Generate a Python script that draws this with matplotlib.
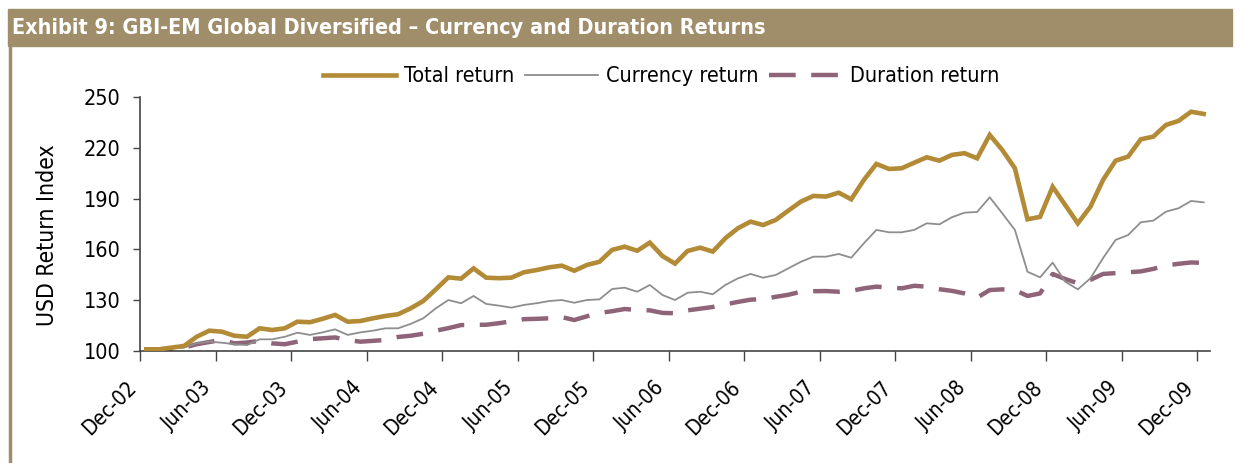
import numpy as np
import matplotlib
matplotlib.use("Agg")
import matplotlib.pyplot as plt
from matplotlib.patches import Rectangle
from matplotlib.lines import Line2D

plt.rcParams['font.family'] = ['DejaVu Sans']
plt.rcParams['font.stretch'] = 'condensed'

# ── Data: monthly index, Dec-02 .. Dec-09 ───────────────────────────────
total_return = [
    101, 101, 102, 103, 108.4, 112, 111.4, 109, 108.4, 113.4,
    112.4, 113.4, 117.3, 117, 119, 121.3, 117.3, 117.7, 119.3, 120.7,
    121.7, 125.2, 129.5, 136.4, 143.5, 142.7, 148.8, 143.3, 143, 143.3,
    146.5, 147.8, 149.4, 150.4, 147.4, 150.8, 152.7, 159.7, 161.6, 159.2,
    164, 156.1, 151.6, 159.1, 161, 158.7, 166.6, 172.5, 176.4, 174.4,
    177.4, 182.9, 188.2, 191.6, 191.2, 193.5, 189.6, 201, 210.5, 207.5,
    207.9, 211.2, 214.4, 212.4, 215.8, 216.8, 213.8, 227.6, 218.7, 207.9,
    177.8, 179.2, 197, 186.2, 175.4, 185.2, 201, 212.4, 214.8, 225,
    226.6, 233.5, 235.9, 241.3, 240,
]
currency_return = [
    101, 101, 101.5, 102, 104.5, 105.5, 104.9, 104, 103.5, 106.9,
    106.9, 108.4, 110.8, 109.5, 111, 112.8, 109.5, 111, 112, 113.4,
    113.4, 116, 119.3, 125.2, 130.1, 128.2, 132.5, 127.8, 126.8, 125.6,
    127.2, 128.2, 129.5, 130.1, 128.5, 130.1, 130.5, 136.6, 137.4, 135,
    139, 133.1, 130.1, 134.4, 135, 133.5, 139, 142.9, 145.5, 143.3,
    144.9, 148.8, 152.7, 155.7, 155.7, 157.3, 155.1, 163.6, 171.5, 170.1,
    170.1, 171.5, 175.4, 174.8, 179, 181.7, 182.1, 190.8, 181.3, 171.5,
    146.8, 143.5, 152.2, 140.9, 136.4, 142.9, 154.8, 165.6, 168.5, 176,
    177, 182.3, 184.3, 188.6, 187.8,
]
duration_return = [
    101, 101, 101.3, 102, 104, 105.3, 106.5, 104.5, 105, 106,
    104.5, 104, 105.5, 107, 107.5, 108, 106.5, 105.5, 106, 106.5,
    108.3, 109, 110.2, 112, 113.5, 115.3, 115.5, 115.5, 116.4, 117.5,
    118.8, 119, 119.3, 120, 118.3, 120.5, 122.5, 123.5, 124.8, 124.2,
    124, 122.5, 122.3, 124, 125, 126, 127.5, 129, 130.3, 130.7,
    132, 133.2, 135, 135.3, 135.4, 135, 135.5, 137, 138, 137.5,
    137, 138.5, 138, 136.5, 135.5, 134, 131.5, 136, 136.4, 136,
    132.5, 134, 145.5, 142.5, 140, 142, 145.5, 146, 146.5, 147,
    148.5, 150.5, 151.5, 152.3, 152,
]
tick_labels = ["Dec-02", "Jun-03", "Dec-03", "Jun-04", "Dec-04", "Jun-05",
               "Dec-05", "Jun-06", "Dec-06", "Jun-07", "Dec-07", "Jun-08",
               "Dec-08", "Jun-09", "Dec-09"]
y_ticks = [100, 130, 160, 190, 220, 250]

TAN = "#A08E6B"
GOLD = "#B38A36"
GREY = "#8E8E8E"
MAUVE = "#8F6479"

# months plotted in the middle of each month slot
x = np.arange(len(total_return)) + 0.5

fig = plt.figure(figsize=(12.36, 4.63), dpi=100)

# title bar and left frame line
fig.patches.append(Rectangle((8 / 1236, 1 - 46 / 463), 1 - 12 / 1236, 37 / 463,
                             transform=fig.transFigure, color=TAN, zorder=0))
fig.add_artist(Line2D([10 / 1236, 10 / 1236], [0, 1 - 46 / 463],
                      transform=fig.transFigure, color=TAN, lw=2.5))
fig.text(12 / 1236, 1 - 28 / 463,
         "Exhibit 9: GBI-EM Global Diversified \u2013 Currency and Duration Returns",
         color="white", fontsize=15.5, fontweight="bold", va="center", ha="left")

ax = fig.add_axes([140 / 1236, 112 / 463, 1070 / 1236, 254 / 463])
ax.plot(x, total_return, color=GOLD, lw=3.3, label="Total return",
        solid_joinstyle="miter", zorder=3)
ax.plot(x, currency_return, color=GREY, lw=1.3, label="Currency return", zorder=2)
ax.plot(x, duration_return, color=MAUVE, lw=3.2, dashes=(6, 3.5),
        label="Duration return", zorder=1)

ax.set_xlim(0, len(total_return))
ax.set_ylim(100, 250)
ax.set_xticks(np.arange(0, len(total_return), 6))
ax.set_xticklabels(tick_labels, rotation=45, ha="right", va="bottom",
                   rotation_mode="anchor", fontsize=15)
ax.set_yticks(y_ticks)
ax.tick_params(axis="y", labelsize=15.5, length=5, width=1, color="#444444", pad=9)
ax.tick_params(axis="x", length=7, width=1, color="#444444", pad=22)
ax.set_ylabel("USD Return Index", fontsize=16.5)
ax.yaxis.set_label_coords(-0.0757, 0.457)

for s in ["top", "right"]:
    ax.spines[s].set_visible(False)
for s in ["left", "bottom"]:
    ax.spines[s].set_color("#444444")
    ax.spines[s].set_linewidth(1.2)

ax.legend(loc="lower center", bbox_to_anchor=(0.487, 1.0), ncol=3, frameon=False,
          fontsize=15.5, handlelength=3.4, handletextpad=0.35, columnspacing=0.5,
          borderaxespad=0.1)

fig.savefig("out.png", dpi=100)
